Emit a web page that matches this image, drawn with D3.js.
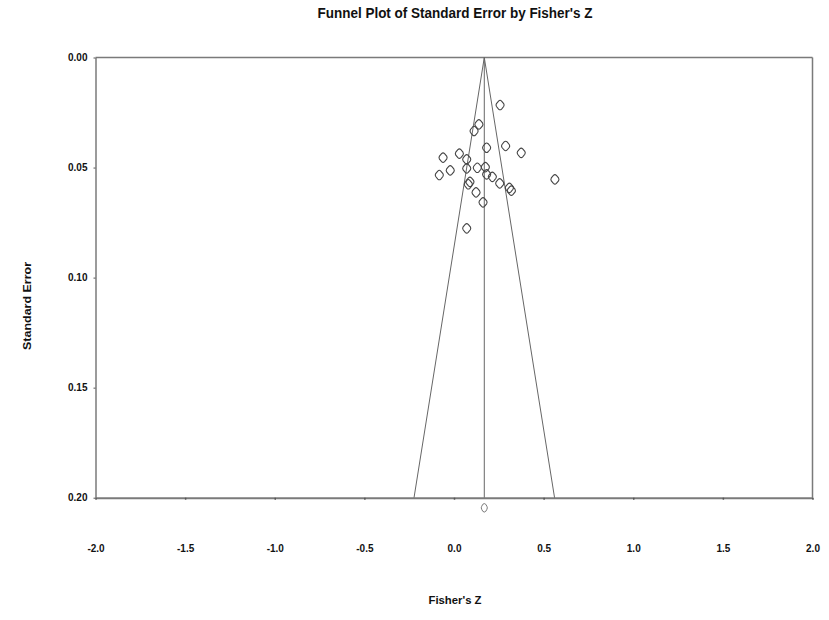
<!DOCTYPE html>
<html>
<head>
<meta charset="utf-8">
<script src="https://cdn.jsdelivr.net/npm/d3@7"></script>
<style>
  body { margin: 0; background: #fff; }
  svg { display: block; font-family: "Liberation Sans", Arial, sans-serif; }
</style>
</head>
<body>
<svg id="chart" width="829" height="620"></svg>
<script>
// Study effect sizes (Fisher's Z) and standard errors
const fisherZ = [0.257, 0.139, 0.112, 0.182, 0.288, 0.375, -0.061, 0.030, 0.071, -0.021,
                 -0.082, 0.071, 0.130, 0.175, 0.182, 0.214, 0.089, 0.080, 0.255, 0.309,
                 0.320, 0.123, 0.162, 0.563, 0.071];
const stdErr  = [0.0216, 0.0304, 0.0334, 0.0410, 0.0402, 0.0433, 0.0455, 0.0437, 0.0463, 0.0513,
                 0.0534, 0.0504, 0.0501, 0.0498, 0.0531, 0.0542, 0.0565, 0.0576, 0.0572, 0.0592,
                 0.0605, 0.0613, 0.0658, 0.0554, 0.0776];
const combinedZ = [0.169];
const combinedSE = [0.2046];
const xTicks = [-2.0, -1.5, -1.0, -0.5, 0.0, 0.5, 1.0, 1.5, 2.0];
const yTicks = [0.00, 0.05, 0.10, 0.15, 0.20];
const funnelSE = [0, 0.2];

const svg = d3.select("#chart");
const x = d3.scaleLinear().domain([-2, 2]).range([95.5, 812.5]);
const y = d3.scaleLinear().domain([0, 0.2]).range([57.5, 497.7]);

const frameColor = "#7a7a7a";

// Frame (top and right)
svg.append("line").attr("x1", x(-2)).attr("x2", x(2)).attr("y1", y(0)).attr("y2", y(0))
  .attr("stroke", frameColor).attr("stroke-width", 1.5);
svg.append("line").attr("x1", x(2)).attr("x2", x(2)).attr("y1", y(0)).attr("y2", y(0.2))
  .attr("stroke", frameColor).attr("stroke-width", 1.5);

// Axes
const xAxis = d3.axisBottom(x).tickValues(xTicks)
  .tickSizeInner(2).tickSizeOuter(0).tickPadding(45);
const gx = svg.append("g").attr("transform", `translate(0,${y(0.2)})`).call(xAxis);
gx.select(".domain").attr("stroke", frameColor).attr("stroke-width", 2);
gx.selectAll(".tick line").attr("stroke", "#555").attr("stroke-width", 1.5);
gx.selectAll("text").attr("font-size", 10).attr("font-weight", "bold").attr("fill", "#111")
  .text(d => d3.format(".1f")(d).replace("−", "-"));

const yAxis = d3.axisLeft(y).tickValues(yTicks).tickFormat(d3.format(".2f"))
  .tickSizeInner(2).tickSizeOuter(0).tickPadding(6);
const gy = svg.append("g").attr("transform", `translate(${x(-2)},0)`).call(yAxis);
gy.select(".domain").attr("stroke", frameColor).attr("stroke-width", 1.5);
gy.selectAll(".tick line").attr("stroke", "#555");
gy.selectAll("text").attr("font-size", 10).attr("font-weight", "bold").attr("fill", "#111");

// Funnel
const c = combinedZ[0];
const funnelLine = d3.line().x(d => x(d[0])).y(d => y(d[1]));
svg.append("path").attr("d", funnelLine(funnelSE.map(s => [c - 1.96 * s, s])))
  .attr("fill", "none").attr("stroke", "#666").attr("stroke-width", 1);
svg.append("path").attr("d", funnelLine(funnelSE.map(s => [c + 1.96 * s, s])))
  .attr("fill", "none").attr("stroke", "#666").attr("stroke-width", 1);
svg.append("path").attr("d", funnelLine(funnelSE.map(s => [c, s])))
  .attr("fill", "none").attr("stroke", "#666").attr("stroke-width", 1);

// Rounded diamond markers
const diamond = (cx, cy, w, h) => {
  const r = 1.5;
  return `M${cx - r},${cy - h / 2 + r} Q${cx},${cy - h / 2} ${cx + r},${cy - h / 2 + r}` +
         ` L${cx + w / 2 - r * 0.6},${cy - r}` +
         ` Q${cx + w / 2},${cy} ${cx + w / 2 - r * 0.6},${cy + r}` +
         ` L${cx + r},${cy + h / 2 - r} Q${cx},${cy + h / 2} ${cx - r},${cy + h / 2 - r}` +
         ` L${cx - w / 2 + r * 0.6},${cy + r}` +
         ` Q${cx - w / 2},${cy} ${cx - w / 2 + r * 0.6},${cy - r} Z`;
};
const pts = fisherZ.map((z, i) => ({ z, se: stdErr[i] }));
svg.append("g").selectAll("path").data(pts).join("path")
  .attr("d", d => diamond(x(d.z), y(d.se), 9, 11))
  .attr("fill", "none").attr("stroke", "#444").attr("stroke-width", 1.1);
svg.append("g").selectAll("path").data(combinedZ.map((z, i) => ({ z, se: combinedSE[i] }))).join("path")
  .attr("d", d => diamond(x(d.z), y(d.se), 7, 10))
  .attr("fill", "none").attr("stroke", "#777").attr("stroke-width", 1);

// Titles
svg.append("text").attr("x", 455).attr("y", 18).attr("text-anchor", "middle")
  .attr("font-size", 14.5).attr("font-weight", "bold").attr("fill", "#111")
  .attr("textLength", 275).attr("lengthAdjust", "spacingAndGlyphs")
  .text("Funnel Plot of Standard Error by Fisher's Z");
svg.append("text").attr("x", 455).attr("y", 604).attr("text-anchor", "middle")
  .attr("font-size", 11).attr("font-weight", "bold").attr("fill", "#111")
  .attr("textLength", 53).attr("lengthAdjust", "spacingAndGlyphs")
  .text("Fisher's Z");
svg.append("text").attr("transform", "translate(31,306) rotate(-90)").attr("text-anchor", "middle")
  .attr("font-size", 11).attr("font-weight", "bold").attr("fill", "#111")
  .attr("textLength", 88).attr("lengthAdjust", "spacingAndGlyphs")
  .text("Standard Error");
</script>
</body>
</html>
